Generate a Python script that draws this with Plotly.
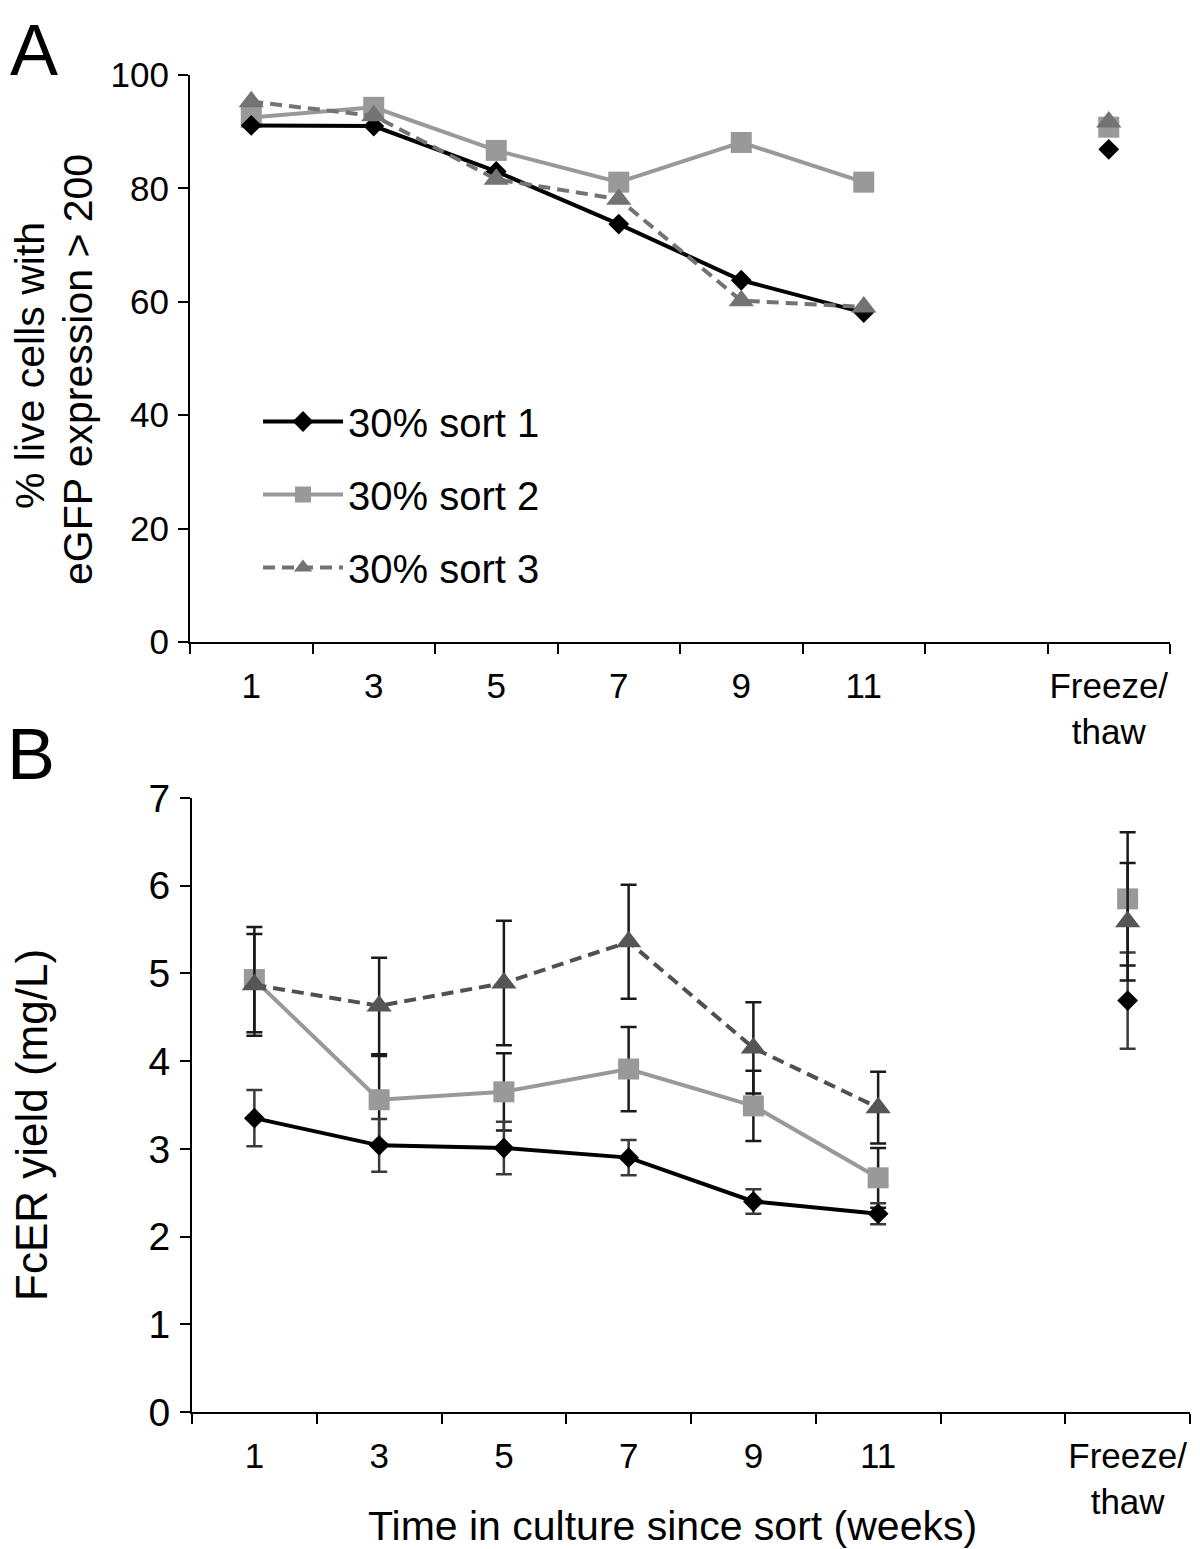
import plotly.graph_objects as go

# the page body adds an 8px margin, so the figure is 8px smaller than the window
W, H = 1192, 1541

categories = ["1", "3", "5", "7", "9", "11", " ", "Freeze/<br>thaw"]
series_names = ["30% sort 1", "30% sort 2", "30% sort 3"]

# panel A - % live cells with eGFP expression > 200 (None = empty slot before freeze/thaw)
gfp_sort1 = [91.1, 91.0, 83.0, 73.7, 63.8, 58.1, None, 86.9]
gfp_sort2 = [92.5, 94.3, 86.7, 81.1, 88.1, 81.1, None, 90.8]
gfp_sort3 = [95.3, 92.8, 81.6, 78.1, 60.2, 59.1, None, 91.7]

# panel B - FcER yield (mg/L) and error bars
yield_sort1 = [3.35, 3.04, 3.01, 2.90, 2.40, 2.26, None, 4.69]
yield_sort2 = [4.93, 3.56, 3.65, 3.91, 3.49, 2.67, None, 5.85]
yield_sort3 = [4.87, 4.63, 4.89, 5.36, 4.15, 3.47, None, 5.59]
err_sort1 = [0.32, 0.30, 0.30, 0.20, 0.14, 0.12, 0, 0.55]
err_sort2 = [0.60, 0.50, 0.44, 0.48, 0.40, 0.34, 0, 0.76]
err_sort3 = [0.58, 0.55, 0.71, 0.65, 0.52, 0.41, 0, 0.67]

FONT = "Liberation Sans, Arial, Helvetica, sans-serif"

styles = {
    "30% sort 1": dict(line=dict(color="black", width=4), marker=dict(symbol="diamond", size=16, color="black")),
    "30% sort 2": dict(line=dict(color="#999999", width=4), marker=dict(symbol="square", size=21, color="#999999")),
    "30% sort 3": dict(line=dict(color="#737373", width=4, dash="12px,7px"),
                       marker=dict(symbol="triangle-up", size=22, color="#737373")),
}
rank = {"30% sort 1": 1, "30% sort 2": 2, "30% sort 3": 3}

fig = go.Figure()

# draw order: sort 2 under, sort 3 on top
gfp = {"30% sort 1": gfp_sort1, "30% sort 2": gfp_sort2, "30% sort 3": gfp_sort3}
yld = {"30% sort 1": yield_sort1, "30% sort 2": yield_sort2, "30% sort 3": yield_sort3}
err = {"30% sort 1": err_sort1, "30% sort 2": err_sort2, "30% sort 3": err_sort3}
err_col = {"30% sort 1": "#3a3a3a", "30% sort 2": "#1a1a1a", "30% sort 3": "#1a1a1a"}

for name in ["30% sort 2", "30% sort 1", "30% sort 3"]:
    st = styles[name]
    fig.add_trace(go.Scatter(x=categories, y=gfp[name], name=name, mode="lines+markers",
                             line=st["line"], marker=st["marker"], legendgroup=name,
                             legendrank=rank[name], cliponaxis=False, xaxis="x", yaxis="y"))

for name in ["30% sort 2", "30% sort 1", "30% sort 3"]:
    st = styles[name]
    line = dict(st["line"])
    marker = dict(st["marker"])
    if name == "30% sort 3":
        line["color"] = "#505050"
        marker["color"] = "#555555"
    fig.add_trace(go.Scatter(x=categories, y=yld[name], name=name, mode="lines+markers",
                             line=line, marker=marker, showlegend=False,
                             error_y=dict(type="data", array=err[name], visible=True,
                                          color=err_col[name], thickness=2.5, width=8),
                             cliponaxis=False, xaxis="x2", yaxis="y2"))


def x_axis(x0, x1, y_anchor):
    return dict(domain=[x0 / W, x1 / W], anchor=y_anchor, type="category",
                categoryorder="array", categoryarray=categories, range=[-0.5, 7.5],
                tickson="boundaries", ticks="outside", ticklen=10, tickwidth=2, tickcolor="black",
                tickangle=0,
                showline=True, linecolor="black", linewidth=2, showgrid=False, zeroline=False,
                tickfont=dict(size=35, color="black", family=FONT), ticklabelstandoff=12,
                automargin=False)


def y_axis(top, bottom, x_anchor, rng, dtick, fsize):
    return dict(domain=[1 - bottom / H, 1 - top / H], anchor=x_anchor, range=rng, dtick=dtick,
                ticks="outside", ticklen=10, tickwidth=2, tickcolor="black",
                showline=True, linecolor="black", linewidth=2, showgrid=False, zeroline=False,
                tickfont=dict(size=fsize, color="black", family=FONT), ticklabelstandoff=2,
                automargin=False)


fig.update_layout(
    width=W, height=H,
    margin=dict(l=0, r=0, t=0, b=0),
    paper_bgcolor="white", plot_bgcolor="white",
    font=dict(family=FONT, color="black"),
    xaxis=x_axis(182, 1162, "y"),
    yaxis=y_axis(67, 634, "x", [0, 100], 20, 35),
    xaxis2=x_axis(184, 1182, "y2"),
    yaxis2=y_axis(790, 1404, "x2", [0, 7], 1, 39),
    showlegend=True,
    legend=dict(x=250 / W, y=1 - 381 / H, xanchor="left", yanchor="top",
                font=dict(size=40, color="black", family=FONT),
                traceorder="grouped", tracegroupgap=18, bgcolor="rgba(0,0,0,0)",
                itemwidth=80),
)

annotations = [
    dict(text="A", x=0, y=1.0, xanchor="left", yanchor="top", font=dict(size=72)),
    dict(text="B", x=23 / W, y=1 - 746 / H, font=dict(size=72)),
    dict(text="% live cells with", x=22 / W, y=1 - 358 / H, textangle=-90, font=dict(size=41)),
    dict(text="eGFP expression > 200", x=70 / W, y=1 - 362 / H, textangle=-90, font=dict(size=41)),
    dict(text="FcER yield (mg/L)", x=23 / W, y=1 - 1117 / H, textangle=-90, font=dict(size=44)),
    dict(text="Time in culture since sort (weeks)", x=664 / W, y=1 - 1518 / H, font=dict(size=41)),
]
for a in annotations:
    a.setdefault("yanchor", "middle")
    a.setdefault("xanchor", "center")
    a.update(xref="paper", yref="paper", showarrow=False)
    a["font"].update(color="black", family=FONT)
fig.update_layout(annotations=annotations)

fig.write_html("out.html")
